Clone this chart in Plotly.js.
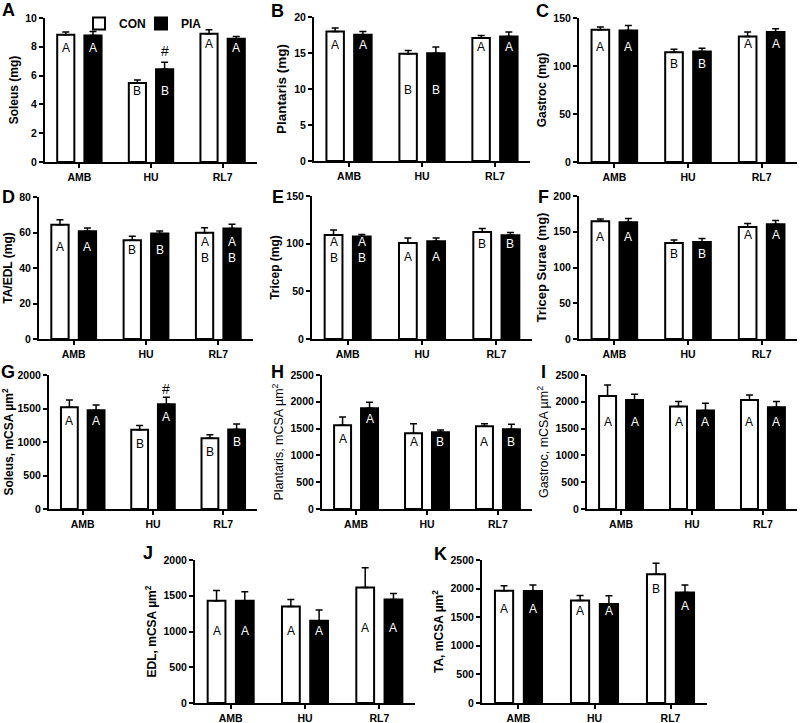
<!DOCTYPE html>
<html>
<head>
<meta charset="utf-8">
<script src="https://cdn.plot.ly/plotly-3.0.1.min.js"></script>
<style>
body{margin:0;background:#fff;}
#chart{width:800px;height:723px;}
</style>
</head>
<body>
<div id="chart"></div>
<script>
const groups = ['AMB', 'HU', 'RL7'];

// A - Soleus (mg)
const solMgCon = [8.84, 5.49, 8.91];
const solMgConErr = [0.18, 0.21, 0.28];
const solMgPia = [8.79, 6.44, 8.56];
const solMgPiaErr = [0.28, 0.49, 0.16];
const solMgConTag = ['A', 'B', 'A'];
const solMgPiaTag = ['A', 'B', 'A'];
const solMgConTagY = [7.9, 4.9, 8.2];
const solMgPiaTagY = [7.9, 4.9, 7.9];

// B - Plantaris (mg)
const plaMgCon = [18.0, 14.88, 17.07];
const plaMgConErr = [0.47, 0.47, 0.37];
const plaMgPia = [17.53, 14.98, 17.3];
const plaMgPiaErr = [0.47, 0.84, 0.6];
const plaMgConTag = ['A', 'B', 'A'];
const plaMgPiaTag = ['A', 'B', 'A'];
const plaMgConTagY = [16.1, 9.8, 15.8];
const plaMgPiaTagY = [16.1, 9.8, 15.8];

// C - Gastroc (mg)
const gasMgCon = [137.8, 114.4, 130.8];
const gasMgConErr = [2.8, 3.1, 4.5];
const gasMgPia = [137.1, 115.1, 135.3];
const gasMgPiaErr = [5.2, 3.5, 3.5];
const gasMgConTag = ['A', 'B', 'A'];
const gasMgPiaTag = ['A', 'B', 'A'];
const gasMgConTagY = [120, 102, 122.8];
const gasMgPiaTagY = [120, 102, 122.8];

// D - TA/EDL (mg)
const taeMgCon = [64.4, 55.6, 59.9];
const taeMgConErr = [2.8, 2.3, 2.8];
const taeMgPia = [60.7, 59.4, 62.2];
const taeMgPiaErr = [1.8, 1.5, 2.4];
const taeMgConTag = ['A', 'B', 'A<br>B'];
const taeMgPiaTag = ['A', 'B', 'A<br>B'];
const taeMgConTagY = [52, 50, 50];
const taeMgPiaTagY = [52, 50, 50];

// E - Tricep (mg)
const triMgCon = [109.2, 100.8, 112.3];
const triMgConErr = [5.2, 5.2, 3.5];
const triMgPia = [107.5, 102.5, 108.8];
const triMgPiaErr = [2.1, 3.5, 2.8];
const triMgConTag = ['A<br>B', 'A', 'B'];
const triMgPiaTag = ['A<br>B', 'A', 'B'];
const triMgConTagY = [93.5, 86.2, 99.4];
const triMgPiaTagY = [93.5, 86.2, 99.4];

// F - Tricep Surae (mg)
const tsuMgCon = [164.7, 134.4, 156.7];
const tsuMgConErr = [3.2, 4.2, 4.7];
const tsuMgPia = [163.3, 135.8, 160.5];
const tsuMgPiaErr = [5.1, 4.7, 5.1];
const tsuMgConTag = ['A', 'B', 'A'];
const tsuMgPiaTag = ['A', 'B', 'A'];
const tsuMgConTagY = [142.8, 118.6, 145.1];
const tsuMgPiaTagY = [142.8, 118.6, 145.1];

// G - Soleus mCSA
const solCsaCon = [1519, 1181, 1057];
const solCsaConErr = [109, 65, 50];
const solCsaPia = [1474, 1563, 1186];
const solCsaPiaErr = [79, 104, 84];
const solCsaConTag = ['A', 'B', 'B'];
const solCsaPiaTag = ['A', 'A', 'B'];
const solCsaConTagY = [1315, 968, 849];
const solCsaPiaTagY = [1315, 1380, 998];

// H - Plantaris mCSA
const plaCsaCon = [1561, 1412, 1545];
const plaCsaConErr = [155, 180, 45];
const plaCsaPia = [1878, 1430, 1486];
const plaCsaPiaErr = [112, 44, 94];
const plaCsaConTag = ['A', 'A', 'A'];
const plaCsaPiaTag = ['A', 'B', 'B'];
const plaCsaConTagY = [1300, 1244, 1244];
const plaCsaPiaTagY = [1679, 1244, 1244];

// I - Gastroc mCSA
const gasCsaCon = [2109, 1911, 2035];
const gasCsaConErr = [205, 93, 93];
const gasCsaPia = [2035, 1836, 1898];
const gasCsaPiaErr = [105, 137, 106];
const gasCsaConTag = ['A', 'A', 'A'];
const gasCsaPiaTag = ['A', 'A', 'A'];
const gasCsaConTagY = [1632, 1632, 1632];
const gasCsaPiaTagY = [1632, 1632, 1632];

// J - EDL mCSA
const edlCsaCon = [1430, 1350, 1617];
const edlCsaConErr = [145, 99, 276];
const edlCsaPia = [1430, 1150, 1449];
const edlCsaPiaErr = [126, 149, 84];
const edlCsaConTag = ['A', 'A', 'A'];
const edlCsaPiaTag = ['A', 'A', 'A'];
const edlCsaConTagY = [1009, 1009, 1056];
const edlCsaPiaTagY = [1009, 1009, 1056];

// K - TA mCSA
const taCsaCon = [1963, 1793, 2249];
const taCsaConErr = [87, 88, 193];
const taCsaPia = [1957, 1729, 1934];
const taCsaPiaErr = [105, 146, 128];
const taCsaConTag = ['A', 'A', 'B'];
const taCsaPiaTag = ['A', 'A', 'A'];
const taCsaConTagY = [1636, 1612, 1987];
const taCsaPiaTagY = [1636, 1612, 1700];

// "#" marks (group index, value) for PIA vs CON
const hashA = {group: 1, y: 7.7};
const hashG = {group: 1, y: 1787};

const W = 800, H = 723;
const FONT = 'Arial, "Liberation Sans", sans-serif';

/* ---------- panel setup ---------- */

const panels = [
  {letter:'A', title:'Soleus (mg)', ymax:10, dtick:2, box:[45,257,18,162], lp:[8,10], ts:12, tw:'bold',
   con:solMgCon, conErr:solMgConErr, pia:solMgPia, piaErr:solMgPiaErr,
   conTag:solMgConTag, piaTag:solMgPiaTag, conTagY:solMgConTagY, piaTagY:solMgPiaTagY, hash:hashA},
  {letter:'B', title:'Plantaris (mg)', ymax:20, dtick:5, box:[314,530,17,161], lp:[277,11], ts:13.5, tw:'bold',
   con:plaMgCon, conErr:plaMgConErr, pia:plaMgPia, piaErr:plaMgPiaErr,
   conTag:plaMgConTag, piaTag:plaMgPiaTag, conTagY:plaMgConTagY, piaTagY:plaMgPiaTagY},
  {letter:'C', title:'Gastroc (mg)', ymax:150, dtick:50, box:[579,797,18,162], lp:[542,11], ts:12, tw:'bold',
   con:gasMgCon, conErr:gasMgConErr, pia:gasMgPia, piaErr:gasMgPiaErr,
   conTag:gasMgConTag, piaTag:gasMgPiaTag, conTagY:gasMgConTagY, piaTagY:gasMgPiaTagY},
  {letter:'D', title:'TA/EDL (mg)', ymax:80, dtick:20, box:[39,253,197,339], lp:[8,197], ts:12, tw:'bold',
   con:taeMgCon, conErr:taeMgConErr, pia:taeMgPia, piaErr:taeMgPiaErr,
   conTag:taeMgConTag, piaTag:taeMgPiaTag, conTagY:taeMgConTagY, piaTagY:taeMgPiaTagY},
  {letter:'E', title:'Tricep (mg)', ymax:150, dtick:50, box:[312,532,196,339], lp:[278,197], ts:12, tw:'bold',
   con:triMgCon, conErr:triMgConErr, pia:triMgPia, piaErr:triMgPiaErr,
   conTag:triMgConTag, piaTag:triMgPiaTag, conTagY:triMgConTagY, piaTagY:triMgPiaTagY},
  {letter:'F', title:'Tricep Surae (mg)', ymax:200, dtick:50, box:[579,797,196,339], lp:[543,197], ts:13, tw:'bold',
   con:tsuMgCon, conErr:tsuMgConErr, pia:tsuMgPia, piaErr:tsuMgPiaErr,
   conTag:tsuMgConTag, piaTag:tsuMgPiaTag, conTagY:tsuMgConTagY, piaTagY:tsuMgPiaTagY},
  {letter:'G', title:'Soleus, mCSA µm<sup>2</sup>', ymax:2000, dtick:500, box:[49,257,375,509], lp:[8,372], ts:12, tw:'bold',
   con:solCsaCon, conErr:solCsaConErr, pia:solCsaPia, piaErr:solCsaPiaErr,
   conTag:solCsaConTag, piaTag:solCsaPiaTag, conTagY:solCsaConTagY, piaTagY:solCsaPiaTagY, hash:hashG},
  {letter:'H', title:'Plantaris, mCSA µm<sup>2</sup>', ymax:2500, dtick:500, box:[322,532,375,509], lp:[277,372], ts:12.5, tw:'normal',
   con:plaCsaCon, conErr:plaCsaConErr, pia:plaCsaPia, piaErr:plaCsaPiaErr,
   conTag:plaCsaConTag, piaTag:plaCsaPiaTag, conTagY:plaCsaConTagY, piaTagY:plaCsaPiaTagY},
  {letter:'I', title:'Gastroc, mCSA µm<sup>2</sup>', ymax:2500, dtick:500, box:[587,797,375,509], lp:[543,372], ts:12.5, tw:'normal',
   con:gasCsaCon, conErr:gasCsaConErr, pia:gasCsaPia, piaErr:gasCsaPiaErr,
   conTag:gasCsaConTag, piaTag:gasCsaPiaTag, conTagY:gasCsaConTagY, piaTagY:gasCsaPiaTagY},
  {letter:'J', title:'EDL, mCSA µm<sup>2</sup>', ymax:2000, dtick:500, box:[195,415,560,703], lp:[148,553], ts:12, tw:'bold',
   con:edlCsaCon, conErr:edlCsaConErr, pia:edlCsaPia, piaErr:edlCsaPiaErr,
   conTag:edlCsaConTag, piaTag:edlCsaPiaTag, conTagY:edlCsaConTagY, piaTagY:edlCsaPiaTagY},
  {letter:'K', title:'TA, mCSA µm<sup>2</sup>', ymax:2500, dtick:500, box:[482,707,560,703], lp:[440,554], ts:12, tw:'bold',
   con:taCsaCon, conErr:taCsaConErr, pia:taCsaPia, piaErr:taCsaPiaErr,
   conTag:taCsaConTag, piaTag:taCsaPiaTag, conTagY:taCsaConTagY, piaTagY:taCsaPiaTagY}
];

const OFF = 0.19;  // bar offset from group centre
const traces = [];
const annotations = [];

function legendAt(px){
  return {
    orientation: 'h', x: px / W, y: 1 - 9 / H, xanchor: 'left', yanchor: 'top',
    font: {family: FONT, size: 12, weight: 'bold'},
    bgcolor: 'rgba(0,0,0,0)', borderwidth: 0, itemwidth: 30
  };
}

const layout = {
  width: W, height: H,
  margin: {l:0, r:0, t:0, b:0},
  paper_bgcolor: 'white', plot_bgcolor: 'white',
  barmode: 'group', bargap: 0.24, bargroupgap: 0.37,
  font: {family: FONT, color: 'black', size: 10},
  showlegend: true,
  legend: legendAt(79),
  legend2: legendAt(141)
};

function errBar(arr){
  return {type:'data', array: arr, arrayminus: arr.map(() => 0), symmetric: false,
          color: 'black', thickness: 1.5, width: 3.5};
}

panels.forEach((p, i) => {
  const n = i === 0 ? '' : String(i + 1);
  const xa = 'x' + n, ya = 'y' + n;
  const [x0, x1, y0, y1] = p.box;

  traces.push({
    type: 'bar', name: 'CON', x: groups, y: p.con, xaxis: xa, yaxis: ya,
    showlegend: i === 0, legend: 'legend',
    marker: {color: 'white', line: {color: 'black', width: 2}},
    error_y: errBar(p.conErr), hoverinfo: 'skip'
  });
  traces.push({
    type: 'bar', name: 'PIA', x: groups, y: p.pia, xaxis: xa, yaxis: ya,
    showlegend: i === 0, legend: 'legend2',
    marker: {color: 'black', line: {color: 'black', width: 2}},
    error_y: errBar(p.piaErr), hoverinfo: 'skip'
  });

  layout['xaxis' + n] = {
    domain: [x0 / W, x1 / W], anchor: ya, type: 'category',
    range: [-0.48, 2.48], fixedrange: true,
    showline: true, linewidth: 2, linecolor: 'black', mirror: false,
    ticks: 'outside', ticklen: 4, tickwidth: 2, tickcolor: 'black',
    tickfont: {family: FONT, size: 10.5, weight: 'bold'},
    showgrid: false, zeroline: false
  };
  layout['yaxis' + n] = {
    domain: [1 - y1 / H, 1 - y0 / H], anchor: xa,
    range: [0, p.ymax], dtick: p.dtick, tick0: 0, fixedrange: true,
    showline: true, linewidth: 2, linecolor: 'black',
    ticks: 'outside', ticklen: 4, tickwidth: 2, tickcolor: 'black',
    tickfont: {family: FONT, size: 10.5, weight: 'bold'},
    showgrid: false, zeroline: false,
    title: {text: p.title, font: {family: FONT, size: p.ts, weight: p.tw}, standoff: 4}
  };

  // letters inside the bars
  groups.forEach((g, k) => {
    annotations.push({
      xref: xa, yref: ya, x: k - OFF, y: p.conTagY[k], text: p.conTag[k],
      showarrow: false, font: {family: FONT, size: 12, color: 'black'}
    });
    annotations.push({
      xref: xa, yref: ya, x: k + OFF, y: p.piaTagY[k], text: p.piaTag[k],
      showarrow: false, font: {family: FONT, size: 12, color: 'white'}
    });
  });

  if (p.hash) {
    annotations.push({
      xref: xa, yref: ya, x: p.hash.group + OFF, y: p.hash.y, text: '#',
      showarrow: false, font: {family: FONT, size: 14, color: 'black'}
    });
  }

  // panel letter
  annotations.push({
    xref: 'paper', yref: 'paper', x: p.lp[0] / W, y: 1 - p.lp[1] / H,
    text: p.letter, showarrow: false, xanchor: 'center', yanchor: 'middle',
    font: {family: FONT, size: 18, weight: 'bold', color: 'black'}
  });
});

layout.annotations = annotations;

Plotly.newPlot('chart', traces, layout, {displayModeBar: false, staticPlot: true});
</script>
</body>
</html>
